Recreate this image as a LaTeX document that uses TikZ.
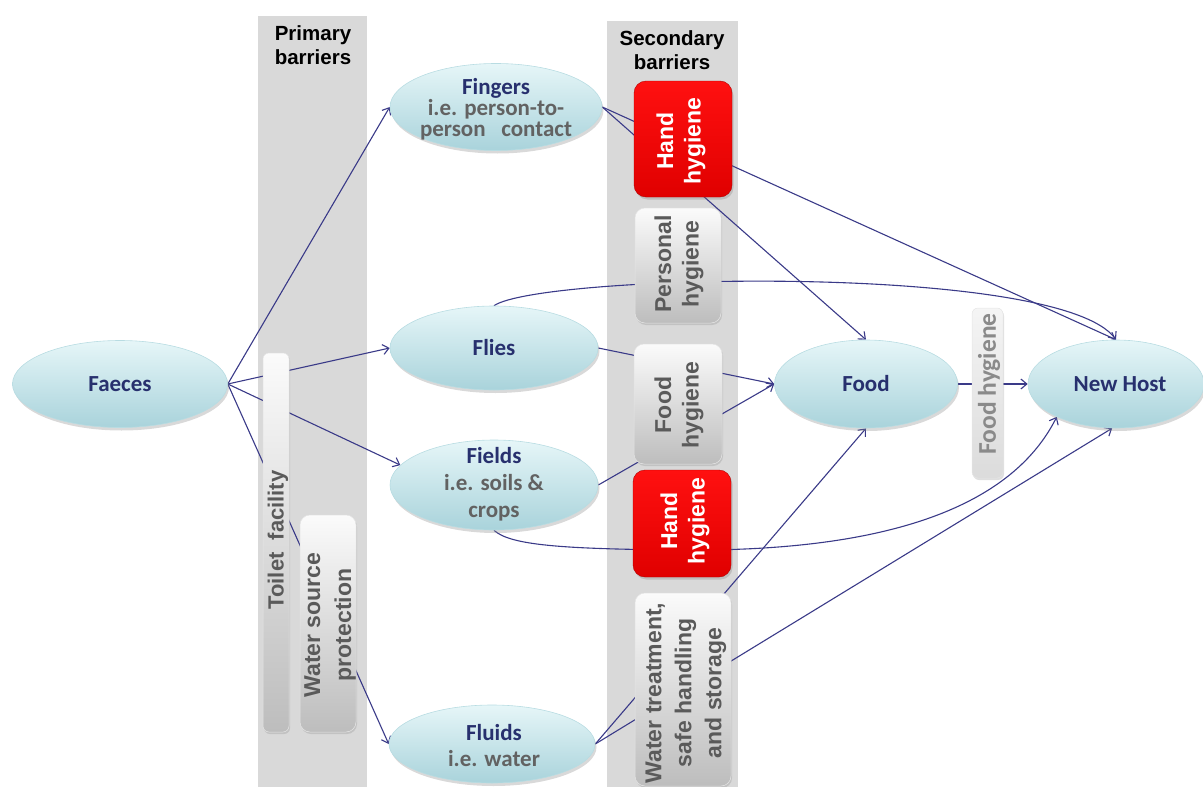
\documentclass[tikz,border=0pt]{standalone}
\usepackage{fontspec}
\setmainfont{Liberation Sans}
\newfontfamily\carlito{Carlito}
\usetikzlibrary{shapes.geometric,arrows.meta,shadows}
\pgfdeclarelayer{bands}
\pgfdeclarelayer{wires}
\pgfsetlayers{bands,wires,main}

\definecolor{bandC}{HTML}{D9D9D9}
\definecolor{wireC}{HTML}{3A3A88}
\definecolor{titleC}{HTML}{27306E}
\definecolor{subC}{HTML}{626262}
\definecolor{boxtxtC}{HTML}{5A5A5A}
\definecolor{podTop}{HTML}{E6F6F8}
\definecolor{podBot}{HTML}{A9D3DB}
\definecolor{podRim}{HTML}{B8DCE2}
\definecolor{redTop}{HTML}{FF1010}
\definecolor{redBot}{HTML}{E00000}
\definecolor{greyTop}{HTML}{FBFBFB}
\definecolor{greyBot}{HTML}{BDBDBD}
\definecolor{smallTxtC}{HTML}{8A8A8A}

\tikzset{
  band/.style={fill=bandC, draw=none},
  head/.style={font=\bfseries\fontsize{20.5}{24}\selectfont, align=center, text=black, inner sep=0pt},
  pod/.style={ellipse, inner sep=0pt, top color=podTop, bottom color=podBot,
    draw=podRim, line width=0.6pt,
    drop shadow={shadow xshift=1.5pt, shadow yshift=-3pt, opacity=0.3}},
  podtxt/.style={align=center, inner sep=0pt, text=titleC,
    font=\carlito\bfseries\fontsize{23}{22}\selectfont},
  sub/.style={text=subC},
  redbox/.style={rectangle, rounded corners=12pt, top color=redTop, bottom color=redBot,
    draw=redBot!80!black, line width=0.4pt,
    drop shadow={shadow xshift=1.5pt, shadow yshift=-2.5pt, opacity=0.3}},
  greybox/.style={rectangle, rounded corners=10pt, top color=greyTop, bottom color=greyBot,
    draw=white!80!gray, line width=0.5pt,
    drop shadow={shadow xshift=1pt, shadow yshift=-2pt, opacity=0.25}},
  slimbox/.style={greybox, rounded corners=6pt},
  vtxt/.style={rotate=90, align=center, inner sep=0pt,
    font=\bfseries\fontsize{23}{27.5}\selectfont},
  route/.style={wireC, line width=1.1pt},
  tip/.style={-{Straight Barb[length=6pt,width=10pt]}}
}

\begin{document}
\begin{tikzpicture}[x=1pt,y=-1pt]
\useasboundingbox (0,0) rectangle (1203,787);

% barrier columns
\begin{pgfonlayer}{bands}
  \fill[band] (258,16) rectangle (367,787);
  \fill[band] (607,21) rectangle (738,787);
\end{pgfonlayer}
\node[head] (hprim) at (313,45) {Primary\\barriers};
\node[head] (hsec) at (672,50) {Secondary\\barriers};

% transmission routes
\node[pod, minimum width=215pt, minimum height=87pt] (faeces) at (120,384) {};
\node[podtxt] (tfaeces) at (faeces.center) {Faeces};

\node[pod, minimum width=212pt, minimum height=87pt] (fingers) at (496,107) {};
\node[podtxt, font=\carlito\bfseries\fontsize{23}{21}\selectfont] (tfingers) at (496,109)
  {Fingers\\\textcolor{subC}{i.e. person-to-}\\\textcolor{subC}{person~~ contact}};

\node[pod, minimum width=208pt, minimum height=84pt] (flies) at (494,348) {};
\node[podtxt] (tflies) at (flies.center) {Flies};

\node[pod, minimum width=208pt, minimum height=90pt] (fields) at (494,485) {};
\node[podtxt, font=\carlito\bfseries\fontsize{23}{27}\selectfont] (tfields) at (494,484)
  {Fields\\\textcolor{subC}{i.e. soils \&}\\\textcolor{subC}{crops}};

\node[pod, minimum width=206pt, minimum height=78pt] (fluids) at (492,744) {};
\node[podtxt, font=\carlito\bfseries\fontsize{23}{26}\selectfont] (tfluids) at (494,746)
  {Fluids\\\textcolor{subC}{i.e. water}};

\node[pod, minimum width=183pt, minimum height=88pt] (food) at (866,384) {};
\node[podtxt] (tfood) at (food.center) {Food};

\node[pod, minimum width=176pt, minimum height=88pt] (newhost) at (1116,384) {};
\node[podtxt] (tnewhost) at (1120,384) {New Host};

% primary barriers
\node[slimbox, minimum width=26pt, minimum height=379pt] (toilet) at (276,542.5) {};
\node[vtxt, text=boxtxtC, font=\bfseries\fontsize{22}{26}\selectfont] (ttoilet) at (278,540)
  {Toilet~~facility};
\node[greybox, minimum width=56pt, minimum height=217pt] (wsp) at (328,623.5) {};
\node[vtxt, text=boxtxtC, font=\bfseries\fontsize{23}{31}\selectfont] (twsp) at (330,625)
  {Water source\\protection};

% secondary barriers
\node[redbox, minimum width=98pt, minimum height=116pt] (hand1) at (683,139) {};
\node[vtxt, text=white] (thand1) at (681,141) {Hand\\hygiene};
\node[greybox, minimum width=86pt, minimum height=115pt] (personal) at (678,265.5) {};
\node[vtxt, text=boxtxtC] (tpersonal) at (679,264) {Personal\\hygiene};
\node[greybox, minimum width=88pt, minimum height=120pt] (foodhyg) at (678,404) {};
\node[vtxt, text=boxtxtC] (tfoodhyg) at (679,405) {Food\\hygiene};
\node[redbox, minimum width=98pt, minimum height=107pt] (hand2) at (682,523.5) {};
\node[vtxt, text=white] (thand2) at (685,521) {Hand\\hygiene};
\node[greybox, minimum width=96pt, minimum height=193pt] (water) at (683,689.5) {};
\node[vtxt, text=boxtxtC, font=\bfseries\fontsize{23}{30}\selectfont] (twater) at (686,693)
  {Water treatment,\\safe handling\\and storage};

% barrier between food and new host
\node[slimbox, minimum width=31pt, minimum height=170pt,
  top color=white!92!gray, bottom color=white!72!gray] (foodsmall) at (987.5,393) {};
\node[vtxt, text=smallTxtC, font=\carlito\bfseries\fontsize{25.5}{28}\selectfont] (tfoodsmall)
  at (989,384) {Food hygiene};

\begin{pgfonlayer}{wires}
  \draw[route, tip] (faeces.east) -- (fingers.west);
  \draw[route, tip] (faeces.east) -- (flies.west);
  \draw[route, tip] (faeces.east) -- (fields.168);
  \coordinate (bend) at (320,590);
  \draw[route, tip] (faeces.east) -- (bend) -- (fluids.west);

  \draw[route, tip] (fingers.east) -- (newhost.north);
  \draw[route, tip] (fingers.east) -- (food.north);

  \draw[route, tip] (flies.north) .. controls (540,274) and (1060,262) .. (newhost.north);
  \draw[route, tip] (flies.east) -- (food.west);

  \draw[route, tip] (fields.east) -- (food.west);
  \coordinate (lowmid) at (680,550);
  \draw[route, tip] (fields.south) .. controls (510,545) and (560,549) .. (lowmid)
    .. controls (880,552) and (1010,510) .. (newhost.209);

  \draw[route, tip] (fluids.east) -- (food.south);
  \draw[route, tip] (fluids.east) -- (newhost.265);

  \draw[route, tip] (food.east) -- (newhost.west);
\end{pgfonlayer}
\end{tikzpicture}
\end{document}
